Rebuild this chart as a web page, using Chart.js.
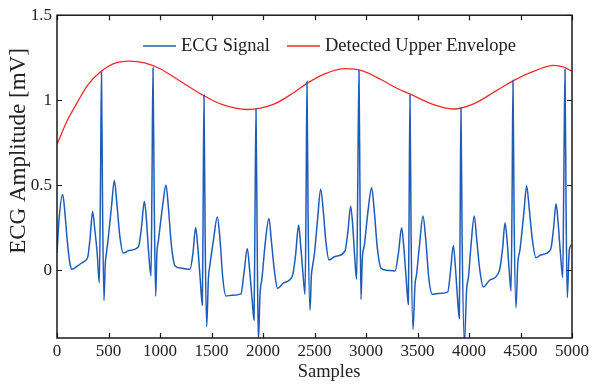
<!DOCTYPE html>
<html><head><meta charset="utf-8">
<script src="https://cdn.jsdelivr.net/npm/chart.js@4"></script>
<style>html,body{margin:0;padding:0;background:#fff}#wrap{width:593px;height:385px}</style>
</head><body><div id="wrap"><canvas id="c" width="593" height="385"></canvas></div>
<script>
const ecgX = [0,20,55,75,100,125,145,200,260,298,320,346,365,390,411,422,432,442,456,468,480,498,530,557,580,610,644,700,790,820,848,868,890,913,922,932,944,958,970,984,1030,1058,1080,1110,1146,1200,1291,1320,1346,1365,1390,1411,1418,1427,1438,1453,1470,1485,1520,1556,1580,1610,1641,1700,1786,1815,1848,1870,1895,1913,1922,1932,1943,1955,1971,1990,2020,2058,2080,2110,2142,2200,2285,2315,2346,2365,2388,2408,2418,2427,2438,2456,2470,2479,2500,2530,2560,2585,2610,2641,2700,2796,2825,2851,2870,2890,2909,2920,2932,2942,2951,2964,2985,3020,3055,3080,3110,3146,3200,3282,3315,3346,3365,3390,3411,3418,3427,3438,3456,3476,3490,3520,3553,3580,3610,3644,3700,3793,3820,3848,3870,3890,3906,3914,3922,3933,3955,3977,3995,4020,4051,4075,4105,4139,4200,4294,4325,4350,4370,4390,4408,4418,4427,4438,4456,4473,4495,4530,4560,4585,4615,4650,4700,4793,4820,4845,4865,4890,4910,4920,4932,4942,4954,4974,5000];
const ecgY = [0.10,0.30,0.445,0.35,0.17,0.04,0.005,0.025,0.05,0.075,0.18,0.345,0.25,0.10,-0.075,0.5,1.165,0.4,-0.18,0.03,0.10,0.19,0.38,0.527,0.40,0.20,0.10,0.115,0.135,0.25,0.405,0.30,0.10,-0.035,0.5,1.19,0.4,-0.153,0.10,0.17,0.40,0.50,0.38,0.15,0.024,0.012,0.004,0.10,0.25,0.15,-0.05,-0.206,0.3,1.03,0.2,-0.333,-0.05,0.03,0.18,0.312,0.20,-0.05,-0.153,-0.148,-0.14,-0.02,0.127,0.0,-0.18,-0.294,0.3,0.95,0.2,-0.42,-0.143,-0.05,0.15,0.304,0.18,0.0,-0.108,-0.075,-0.035,0.08,0.265,0.15,-0.02,-0.143,0.4,1.11,0.3,-0.237,-0.03,0.014,0.10,0.30,0.475,0.35,0.17,0.059,0.08,0.112,0.23,0.376,0.27,0.08,-0.055,0.5,1.175,0.4,-0.173,0.063,0.15,0.35,0.484,0.35,0.13,0.01,-0.001,-0.006,0.10,0.249,0.15,-0.05,-0.202,0.3,1.03,0.2,-0.349,-0.084,-0.03,0.15,0.318,0.18,-0.05,-0.143,-0.138,-0.13,-0.01,0.145,0.0,-0.18,-0.284,0.3,0.955,0.2,-0.43,-0.114,-0.04,0.15,0.318,0.18,0.0,-0.10,-0.06,-0.006,0.12,0.278,0.17,0.0,-0.124,0.4,1.116,0.3,-0.222,0.033,0.12,0.32,0.494,0.36,0.18,0.072,0.09,0.122,0.24,0.39,0.28,0.08,-0.045,0.5,1.18,0.4,-0.163,0.12,0.15];
const envX = [0,100,200,300,420,550,700,850,1000,1200,1400,1600,1850,2100,2300,2430,2600,2800,2950,3150,3300,3430,3650,3850,4050,4250,4430,4650,4820,4920,5000];
const envY = [0.74,0.88,0.99,1.09,1.165,1.215,1.23,1.22,1.185,1.11,1.035,0.975,0.945,0.975,1.045,1.10,1.155,1.185,1.175,1.12,1.07,1.035,0.975,0.948,0.98,1.05,1.115,1.175,1.205,1.195,1.17];
const xTicks = [0,500,1000,1500,2000,2500,3000,3500,4000,4500,5000];
const yTicks = [0,0.5,1,1.5];
const seriesNames = ['ECG Signal','Detected Upper Envelope'];
const xTitle = 'Samples';
const yTitle = 'ECG Amplitude [mV]';

const FONT = "'Liberation Serif', 'DejaVu Serif', serif";
const BLUE = '#1f5cb8';
const RED = '#f22a2a';
const INK = '#222';

const frame = {
  id: 'frame',
  beforeDraw(chart){
    const ctx = chart.ctx;
    ctx.save(); ctx.fillStyle='#fff'; ctx.fillRect(0,0,chart.width,chart.height); ctx.restore();
  },
  afterDraw(chart){
    const {ctx, chartArea:a, scales} = chart;
    ctx.save();
    ctx.strokeStyle = '#1a1a1a';
    ctx.lineWidth = 1.5;
    ctx.strokeRect(a.left, a.top, a.right-a.left, a.bottom-a.top);
    ctx.lineWidth = 1.2;
    ctx.beginPath();
    const tl = 5;
    xTicks.forEach(v=>{ const p = Math.round(scales.x.getPixelForValue(v))+0.5;
      ctx.moveTo(p,a.bottom); ctx.lineTo(p,a.bottom-tl);
      ctx.moveTo(p,a.top); ctx.lineTo(p,a.top+tl); });
    yTicks.forEach(v=>{ const p = Math.round(scales.y.getPixelForValue(v))+0.5;
      ctx.moveTo(a.left,p); ctx.lineTo(a.left+tl,p);
      ctx.moveTo(a.right,p); ctx.lineTo(a.right-tl,p); });
    ctx.stroke();
    // legend
    const ly = 46;
    ctx.font = '18.5px ' + FONT;
    ctx.textBaseline = 'middle';
    ctx.textAlign = 'left';
    ctx.fillStyle = INK;
    const items = [{x:143, c:BLUE, t:seriesNames[0]}, {x:287, c:RED, t:seriesNames[1]}];
    items.forEach(it=>{
      ctx.strokeStyle = it.c; ctx.lineWidth = 1.5;
      ctx.beginPath(); ctx.moveTo(it.x, ly); ctx.lineTo(it.x+33, ly); ctx.stroke();
      ctx.fillText(it.t, it.x+38, ly);
    });
    // axis titles
    ctx.textAlign = 'center';
    ctx.font = '18.5px ' + FONT;
    ctx.fillText(xTitle, 329, 372);
    ctx.translate(19, 151);
    ctx.rotate(-Math.PI/2);
    ctx.font = '23px ' + FONT;
    ctx.fillText(yTitle, 0, 0);
    ctx.restore();
  }
};

new Chart(document.getElementById('c'), {
  type: 'line',
  data: {
    datasets: [
      { label: seriesNames[0], data: ecgX.map((x,i)=>({x, y: ecgY[i]})), borderColor: BLUE, borderWidth: 1.5, pointRadius: 0, cubicInterpolationMode: 'monotone', fill: false },
      { label: seriesNames[1], data: envX.map((x,i)=>({x, y: envY[i]})), borderColor: RED, borderWidth: 1.3, pointRadius: 0, cubicInterpolationMode: 'monotone', fill: false }
    ]
  },
  options: {
    responsive: false, animation: false, devicePixelRatio: 1,
    layout: { padding: { top: 15, right: 21, left: 0, bottom: 0 } },
    plugins: { legend: { display: false }, tooltip: { enabled: false } },
    scales: {
      x: {
        type: 'linear', min: 0, max: 5000,
        afterBuildTicks: s => { s.ticks = xTicks.map(v=>({value:v})); },
        afterFit: s => { s.height = 47; },
        grid: { display: false, drawTicks: false }, border: { display: false },
        ticks: { color: INK, font: { family: FONT, size: 17 }, padding: 3, maxRotation: 0, autoSkip: false, callback: v => String(v) },
        title: { display: false }
      },
      y: {
        type: 'linear', min: -0.4, max: 1.5,
        afterBuildTicks: s => { s.ticks = yTicks.map(v=>({value:v})); },
        afterFit: s => { s.width = 57; },
        grid: { display: false, drawTicks: false }, border: { display: false },
        ticks: { color: INK, font: { family: FONT, size: 17 }, padding: 5, autoSkip: false, callback: v => String(v) },
        title: { display: false }
      }
    }
  },
  plugins: [frame]
});
</script></body></html>
